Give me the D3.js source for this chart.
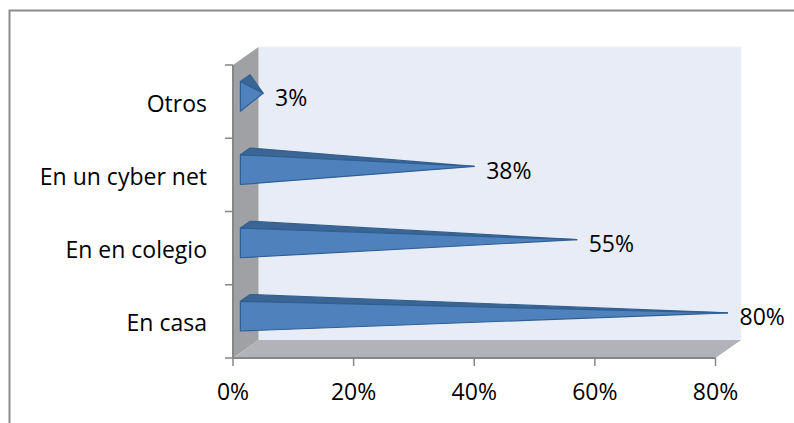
<!DOCTYPE html>
<html>
<head>
<meta charset="utf-8">
<script src="https://d3js.org/d3.v7.min.js"></script>
<style>
html,body{margin:0;padding:0;background:#fff}
svg{display:block}
text{font-family:"Open Sans",Lato,sans-serif;fill:#000}
</style>
</head>
<body>
<svg id="chart" width="794" height="423"></svg>
<script>
// Survey answers, bottom to top of the value axis
const categories = ["En casa", "En en colegio", "En un cyber net", "Otros"];
const shares = [80, 55, 38, 3];
const axisTicks = [0, 20, 40, 60, 80];

const svg = d3.select("#chart");
const fontSize = 23;

// Front plane scales; depth is added through an oblique projection
const x = d3.scaleLinear().domain([0, 80]).range([233, 715.5]);
const y = d3.scaleBand().domain(categories).range([358, 65]);
const depthX = 25.5, depthY = -18;
const floorY = y.range()[0], ceilY = y.range()[1];

const pt = (v, yy, d) => [x(v) + d * depthX, yy + d * depthY];
const poly = (pts, fill, stroke, sw) => svg.append("polygon")
  .attr("points", pts.map(p => p.join(",")).join(" "))
  .attr("fill", fill)
  .attr("stroke", stroke || "none")
  .attr("stroke-width", sw || 0)
  .attr("stroke-linejoin", "round");

// Outer frame of the chart area
svg.append("path")
  .attr("d", "M9.5,423V10.5H794")
  .attr("fill", "none")
  .attr("stroke", "#8c8c8c")
  .attr("stroke-width", 2);

// Back wall, side wall and floor
poly([pt(0, ceilY, 1), pt(80, ceilY, 1), pt(80, floorY, 1), pt(0, floorY, 1)], "#e8ecf6", "#eff1f8", 1);
poly([pt(0, ceilY, 0), pt(0, ceilY, 1), pt(0, floorY, 1), pt(0, floorY, 0)], "#a0a1a5");
poly([pt(0, floorY, 0), pt(0, floorY, 1), pt(80, floorY, 1), pt(80, floorY, 0)], "#b1b3b8");

// Axis lines and tick marks
const axisColor = "#868686";
const line = (x1, y1, x2, y2, w) => svg.append("line")
  .attr("x1", x1).attr("y1", y1).attr("x2", x2).attr("y2", y2)
  .attr("stroke", axisColor).attr("stroke-width", w);
line(x(0), ceilY, x(0), floorY + 1, 2);
line(x(0), floorY, x(80), floorY, 2);
axisTicks.forEach(t => line(x(t), floorY, x(t), floorY + 8, 1.5));
[...categories.map(c => y(c) + y.bandwidth()), ceilY].forEach(v => line(x(0) - 8, v, x(0), v, 1.5));

// Flat-faced cones: visible front face and top face running to a shared apex
const nearD = 0.29, farD = 0.67, midD = 0.47;
const coneHeight = y.bandwidth() * 0.405;

categories.forEach((c, i) => {
  const center = y(c) + y.bandwidth() / 2;
  const top = center - coneHeight / 2, bottom = center + coneHeight / 2;
  const apex = pt(shares[i], center, midD);
  poly([pt(0, top, nearD), pt(0, top, farD), apex], "#3a6595", "#33618f", 1.2);
  poly([pt(0, top, nearD), pt(0, bottom, nearD), apex], "#4f81bd", "#2f5f93", 1.2);

  svg.append("text")
    .attr("x", apex[0] + 12)
    .attr("y", apex[1] + 12.5)
    .attr("font-size", fontSize)
    .text(shares[i] + "%");

  svg.append("text")
    .attr("x", 207)
    .attr("y", center + 10)
    .attr("text-anchor", "end")
    .attr("font-size", fontSize)
    .text(c);
});

// Value axis labels
axisTicks.forEach(t => svg.append("text")
  .attr("x", x(t))
  .attr("y", 400)
  .attr("text-anchor", "middle")
  .attr("font-size", fontSize)
  .text(t + "%"));
</script>
</body>
</html>
